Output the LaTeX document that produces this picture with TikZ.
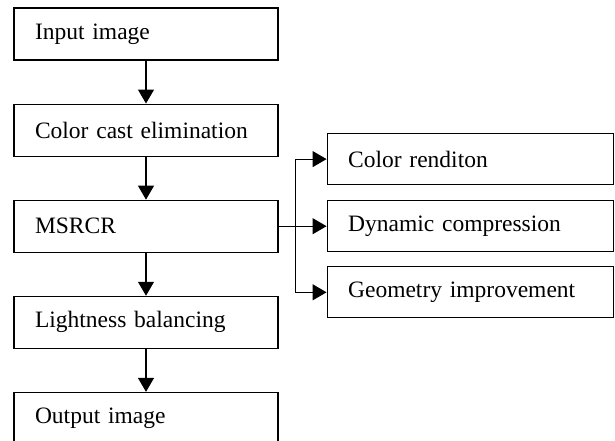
\documentclass[tikz,border=0pt]{standalone}
\usepackage{fontspec}
\setmainfont{Liberation Serif}
\usepackage{tikz}
\usetikzlibrary{arrows.meta, positioning}

\begin{document}
\begin{tikzpicture}[
    node distance=43pt,
    every node/.style={font=\fontsize{23.5}{28}\selectfont},
    box/.style={draw, rectangle, line width=1.1pt, fill=white, inner xsep=21pt, text width=222pt, minimum height=52pt, align=left},
    subbox/.style={box, text width=244.5pt, minimum height=51pt},
    arrow/.style={line width=1.1pt, -{Triangle[length=14pt, width=16pt]}}
]
\useasboundingbox (0,0) rectangle (615pt,-441pt);

\node (step1) [box] at (146pt,-34pt) {Input image};
\node (step2) [box, below=of step1] {Color cast elimination};
\node (step3) [box, below=of step2] {MSRCR};
\node (step4) [box, below=of step3] {Lightness balancing};
\node (step5) [box, below=of step4] {Output image};

\node (sub2) [subbox, right=48pt of step3] {Dynamic compression};
\node (sub1) [subbox, above=15pt of sub2] {Color renditon};
\node (sub3) [subbox, below=14pt of sub2] {Geometry improvement};

\draw [arrow] (step1) -- (step2);
\draw [arrow] (step2) -- (step3);
\draw [arrow] (step3) -- (step4);
\draw [arrow] (step4) -- (step5);

\coordinate (split) at ([xshift=17pt]step3.east);
\draw [arrow] (step3.east) -- (sub2.west);
\draw [arrow] (split) |- (sub1.west);
\draw [arrow] (split) |- (sub3.west);

\end{tikzpicture}
\end{document}
